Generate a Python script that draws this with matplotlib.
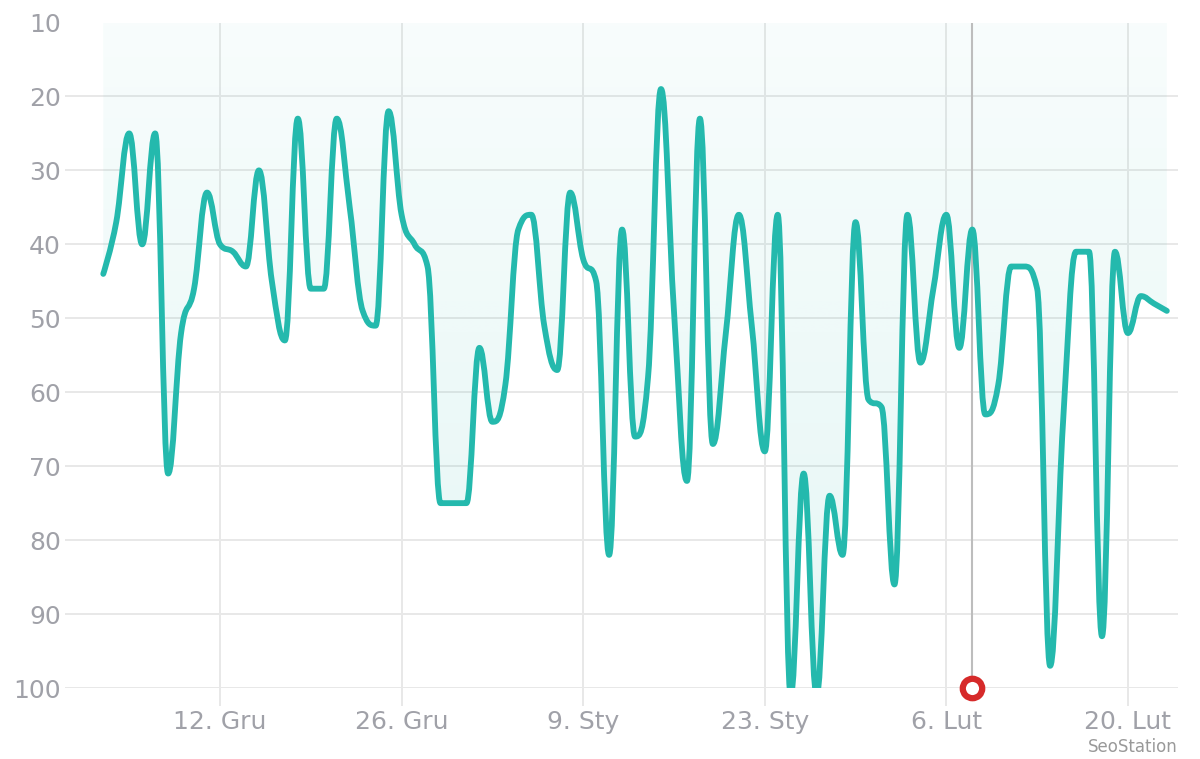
import numpy as np
import pandas as pd
import matplotlib
matplotlib.use('Agg')
import matplotlib.pyplot as plt
import matplotlib.dates as mdates
from matplotlib.path import Path
from matplotlib.patches import PathPatch

# daily position of the tracked keyword (lower = better), starting 3 Dec
start_day = '2016-12-03'
positions = [44, 37, 25, 40, 25, 71, 52, 46, 33,
             40, 41, 43, 30, 45, 53, 23, 46, 46, 23, 35, 49, 51, 22,
             36, 40, 43, 75, 75, 75, 54, 64, 59, 38, 36, 51, 57, 33,
             42, 45, 82, 38, 66, 58, 19, 49, 72, 23, 67, 52, 36, 51,
             68, 36, 101, 71, 101, 74, 82, 37, 61, 62, 86, 36, 56, 46,
             36, 54, 38, 63, 59, 43, 43, 46, 97, 64, 41, 41, 93, 41,
             52, 47, 48, 49]

tick_days = ['2016-12-12', '2016-12-26', '2017-01-09', '2017-01-23', '2017-02-06', '2017-02-20']
tick_labels = ['12. Gru', '26. Gru', '9. Sty', '23. Sty', '6. Lut', '20. Lut']
y_ticks = [10, 20, 30, 40, 50, 60, 70, 80, 90, 100]

event_day = '2017-02-08'
event_position = 100

line_color = '#24b9ad'
grid_color = '#e8e8e8'
label_color = '#a0a1a8'


def spline_path(xs, ys, smoothing=1.5):
    # bezier handles built the same way highcharts does for 'spline' series
    n = len(xs)
    denom = smoothing + 1
    left = [None] * n
    right = [None] * n
    for i in range(1, n - 1):
        px, py = xs[i], ys[i]
        lx, ly = xs[i - 1], ys[i - 1]
        nx, ny = xs[i + 1], ys[i + 1]
        lcx = (smoothing * px + lx) / denom
        lcy = (smoothing * py + ly) / denom
        rcx = (smoothing * px + nx) / denom
        rcy = (smoothing * py + ny) / denom
        corr = 0
        if rcx != lcx:
            corr = (rcy - lcy) * (rcx - px) / (rcx - lcx) + py - rcy
        lcy += corr
        rcy += corr
        if lcy > ly and lcy > py:
            lcy = max(ly, py)
            rcy = 2 * py - lcy
        elif lcy < ly and lcy < py:
            lcy = min(ly, py)
            rcy = 2 * py - lcy
        if rcy > ny and rcy > py:
            rcy = max(ny, py)
            lcy = 2 * py - rcy
        elif rcy < ny and rcy < py:
            rcy = min(ny, py)
            lcy = 2 * py - rcy
        left[i] = (lcx, lcy)
        right[i] = (rcx, rcy)
    verts = [(xs[0], ys[0])]
    codes = [Path.MOVETO]
    for i in range(1, n):
        c1 = right[i - 1] if right[i - 1] is not None else (xs[i - 1], ys[i - 1])
        c2 = left[i] if left[i] is not None else (xs[i], ys[i])
        verts += [c1, c2, (xs[i], ys[i])]
        codes += [Path.CURVE4] * 3
    return verts, codes


days = pd.date_range(start_day, periods=len(positions), freq='D')
x = mdates.date2num(days)
y = np.array(positions, dtype=float)
ticks_x = mdates.date2num(pd.to_datetime(tick_days))
ev_x = mdates.date2num(pd.Timestamp(event_day))

fig = plt.figure(figsize=(12, 7.59), dpi=100)
ax = fig.add_axes([65 / 1200, 71 / 759, 1113 / 1200, 665.5 / 759])

verts, codes = spline_path(list(x), list(y))

# area between the line and the top of the axis, with a soft gradient
top = y_ticks[0]
area_verts = verts + [(x[-1], top), (x[0], top), (x[0], y[0])]
area_codes = codes + [Path.LINETO, Path.LINETO, Path.CLOSEPOLY]
area = PathPatch(Path(area_verts, area_codes), facecolor='none', edgecolor='none')
ax.add_patch(area)
grad = np.zeros((200, 2, 4))
grad[..., 0] = 36 / 255
grad[..., 1] = 185 / 255
grad[..., 2] = 173 / 255
grad[..., 3] = np.linspace(0.035, 0.12, 200)[:, None]
img = ax.imshow(grad, extent=(x[0], x[-1], 100, top), origin='upper',
                aspect='auto', zorder=1, interpolation='bilinear')
img.set_clip_path(area)

ax.axvline(ev_x, color='#bdbdbd', lw=1.5, zorder=2)
ax.add_patch(PathPatch(Path(verts, codes), facecolor='none', edgecolor=line_color,
                       lw=4.2, capstyle='round', joinstyle='round', zorder=3))
ax.plot([ev_x], [event_position], 'o', ms=14, mfc='white', mec='#d62a2a',
        mew=4.5, clip_on=False, zorder=5)

ax.set_xlim(x[9] - 11.95, x[9] + 73.86)
ax.set_ylim(100, 10)
ax.set_yticks(y_ticks)
ax.set_xticks(ticks_x)
ax.set_xticklabels(tick_labels)
ax.grid(True, color=grid_color, lw=1.4, zorder=0)
ax.set_axisbelow(True)
for s in ax.spines.values():
    s.set_visible(False)
ax.tick_params(axis='x', direction='out', length=13, width=1.4, color=grid_color,
               labelsize=18, labelcolor=label_color, pad=3)
ax.tick_params(axis='y', length=0, labelsize=18, labelcolor=label_color, pad=3)

fig.text(1178 / 1200, 1 - 747 / 759, 'SeoStation', ha='right', va='center',
         fontsize=12, color='#999999')

fig.savefig('out.png', dpi=100)
